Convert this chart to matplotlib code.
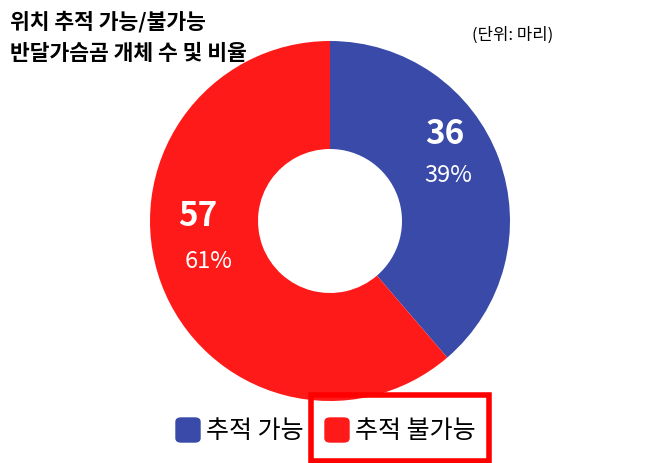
import matplotlib.pyplot as plt
from matplotlib.patches import FancyBboxPatch, Rectangle

plt.rcParams['font.family'] = ['Noto Sans CJK KR', 'DejaVu Sans']

labels = ['추적 가능', '추적 불가능']
counts = [36, 57]
shares = ['39%', '61%']
colors = ['#3a4aa8', '#ff1a1a']

W, H = 658, 464
fig = plt.figure(figsize=(W / 100, H / 100), dpi=100)

# 도넛 (중심 330,222 / 반지름 180px)
ax = fig.add_axes([(330 - 180) / W, (H - 222 - 180) / H, 360 / W, 360 / H])
ax.pie(counts, colors=colors, startangle=90, counterclock=False,
       radius=1.0, wedgeprops=dict(width=0.6))
ax.set_xlim(-1, 1)
ax.set_ylim(-1, 1)
ax.set_aspect('equal')
ax.axis('off')

# 값 라벨
def px(x, y):
    return x / W, 1 - y / H

fig.text(*px(445, 135), str(counts[0]), color='white', fontsize=24, fontweight='bold', ha='center', va='center')
fig.text(*px(448, 176), shares[0], color='white', fontsize=17, fontweight='medium', ha='center', va='center')
fig.text(*px(198, 217), str(counts[1]), color='white', fontsize=24, fontweight='bold', ha='center', va='center')
fig.text(*px(209, 262), shares[1], color='white', fontsize=17, fontweight='medium', ha='center', va='center')

# 제목
fig.text(*px(10, 22), '위치 추적 가능/불가능', fontsize=15.5, fontweight='bold', va='center')
fig.text(*px(10, 54), '반달가슴곰 개체 수 및 비율', fontsize=15.5, fontweight='bold', va='center')
fig.text(*px(472, 35), '(단위: 마리)', fontsize=12, va='center')

# 범례
for i, (lab, c) in enumerate(zip(labels, colors)):
    x0 = [176, 325][i]
    fig.patches.append(FancyBboxPatch(px(x0, 443), 24 / W, 24 / H,
                                      boxstyle='round,pad=0,rounding_size=0.008',
                                      transform=fig.transFigure, color=c))
    fig.text(*px(x0 + 30, 431), lab, fontsize=18, va='center')

fig.patches.append(Rectangle(px(311, 462), 178 / W, 66 / H, transform=fig.transFigure,
                             fill=False, edgecolor='#ff0000', linewidth=4))

fig.savefig('out.png', dpi=100)
